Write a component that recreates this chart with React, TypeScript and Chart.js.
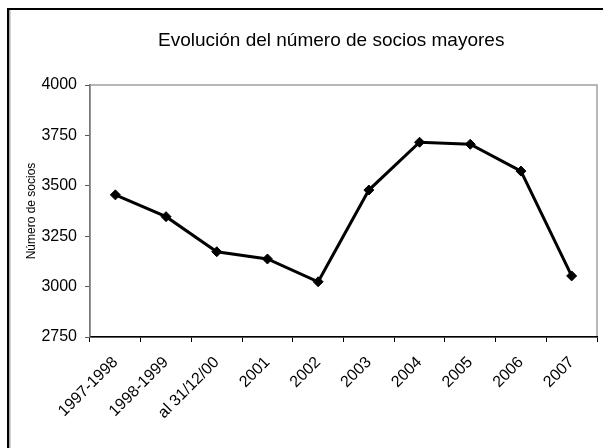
import React, { useEffect, useRef } from "react";
import { Chart, registerables } from "chart.js";

Chart.register(...registerables);

const categories = [
  "1997-1998",
  "1998-1999",
  "al 31/12/00",
  "2001",
  "2002",
  "2003",
  "2004",
  "2005",
  "2006",
  "2007",
];
const socios = [3455, 3347, 3173, 3137, 3024, 3479, 3716, 3706, 3573, 3053];
const chartTitle = "Evolución del número de socios mayores";
const yAxisTitle = "Número de socios";
const yMin = 2750;
const yMax = 4000;
const yStep = 250;

const FONT = "'Liberation Sans', Arial, sans-serif";

const decorPlugin = {
  id: "decor",
  beforeDraw(chart: any) {
    const { ctx, chartArea } = chart;
    ctx.save();
    // outer frame (top + left)
    ctx.fillStyle = "#000";
    ctx.fillRect(7, 8, 603, 2);
    ctx.fillRect(7, 8, 2, 448);
    ctx.fillStyle = "#a8a8a8";
    ctx.fillRect(9, 10, 1.5, 448);
    // plot area border
    ctx.strokeStyle = "#a0a0a0";
    ctx.lineWidth = 1.5;
    ctx.strokeRect(chartArea.left, chartArea.top, chartArea.right - chartArea.left, chartArea.bottom - chartArea.top);
    // title
    ctx.fillStyle = "#000";
    ctx.font = `19px ${FONT}`;
    ctx.textAlign = "left";
    ctx.textBaseline = "alphabetic";
    ctx.fillText(chartTitle, 158, 46);
    ctx.restore();
  },
};

export default function App() {
  const ref = useRef<HTMLCanvasElement | null>(null);
  useEffect(() => {
    if (!ref.current) return;
    const chart = new Chart(ref.current, {
      type: "line",
      data: {
        labels: categories,
        datasets: [
          {
            data: socios,
            borderColor: "#000",
            backgroundColor: "#000",
            borderWidth: 3,
            pointStyle: "rectRot",
            pointRadius: 5,
            pointBackgroundColor: "#000",
            pointBorderColor: "#000",
            pointBorderWidth: 1,
            tension: 0,
          },
        ],
      },
      options: {
        animation: false,
        responsive: false,
        devicePixelRatio: 1,
        layout: { padding: { top: 85, left: 8, right: 3, bottom: 0 } },
        plugins: { legend: { display: false }, title: { display: false }, tooltip: { enabled: false } },
        scales: {
          x: {
            type: "category",
            offset: true,
            afterFit: (s: any) => {
              s.height = 111;
            },
            grid: {
              display: true,
              drawOnChartArea: false,
              drawTicks: true,
              tickLength: 5,
              color: "#000",
              offset: true,
            },
            border: { display: true, color: "#000", width: 1.5 },
            ticks: {
              minRotation: 45,
              maxRotation: 45,
              autoSkip: false,
              padding: 11,
              color: "#000",
              font: { family: FONT, size: 16 },
            },
          },
          y: {
            min: yMin,
            max: yMax,
            afterFit: (s: any) => {
              s.width = 82;
            },
            grid: {
              display: true,
              drawOnChartArea: false,
              drawTicks: true,
              tickLength: 5,
              color: "#555",
            },
            border: { display: true, color: "#777", width: 1.5 },
            ticks: {
              stepSize: yStep,
              padding: 8,
              color: "#000",
              font: { family: FONT, size: 16 },
              callback: (v: any) => String(v),
            },
            title: {
              display: true,
              text: yAxisTitle,
              color: "#000",
              font: { family: FONT, size: 12 },
              padding: { top: 16, bottom: 0 },
            },
          },
        },
      },
      plugins: [decorPlugin],
    });
    return () => chart.destroy();
  }, []);
  return (
    <div style={{ position: "absolute", left: 0, top: 0, width: 603, height: 448, background: "#fff" }}>
      <canvas ref={ref} width={603} height={448} style={{ display: "block" }} />
    </div>
  );
}
